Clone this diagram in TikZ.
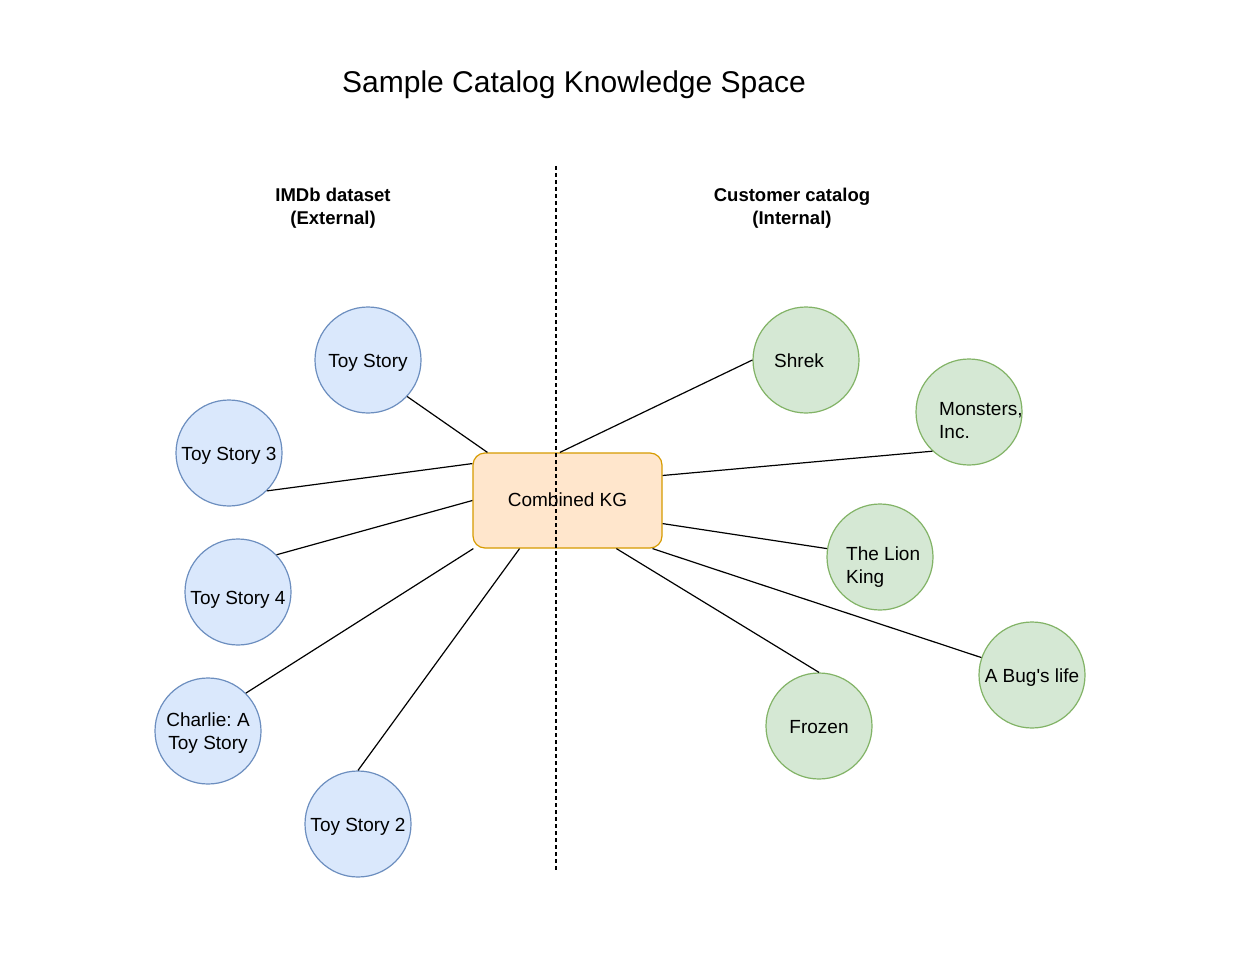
\documentclass[tikz,border=0pt]{standalone}
\usepackage{fontspec}
\setmainfont{Liberation Sans}
\usetikzlibrary{calc}
\frenchspacing
\definecolor{bluefill}{HTML}{DAE8FC}
\definecolor{bluedraw}{HTML}{6C8EBF}
\definecolor{greenfill}{HTML}{D5E8D4}
\definecolor{greendraw}{HTML}{82B366}
\definecolor{orangefill}{HTML}{FFE6CC}
\definecolor{orangedraw}{HTML}{D79B00}
\tikzset{
  movieext/.style={circle, draw=bluedraw, fill=bluefill, line width=1.2pt, minimum size=106pt, inner sep=0pt},
  movieint/.style={circle, draw=greendraw, fill=greenfill, line width=1.2pt, minimum size=106pt, inner sep=0pt},
  kgbox/.style={rectangle, rounded corners=12pt, draw=orangedraw, fill=orangefill, line width=1.2pt, minimum width=189pt, minimum height=95pt},
  ctext/.style={inner sep=0pt, align=center, font=\fontsize{19}{23}\selectfont},
  lefttext/.style={anchor=west, align=left, inner sep=0pt, font=\fontsize{19}{23}\selectfont},
  hdr/.style={align=center, inner sep=0pt, font=\fontsize{18.5}{23}\selectfont\bfseries},
  link/.style={line width=1.2pt, black},
}
\begin{document}
\begin{tikzpicture}[x=1pt, y=-1pt]
\useasboundingbox (0,0) rectangle (1236,960);
\fill[white] (0,0) rectangle (1236,960);

\node[inner sep=0pt, font=\fontsize{30}{34}\selectfont] (title) at (574,85) {Sample Catalog Knowledge Space};

\node[hdr] (imdb) at (333,208) {IMDb dataset\\(External)};
\node[hdr] (cust) at (792,208) {Customer catalog\\ (Internal)};

% nodes
\node[kgbox] (kg) at (567.5,500.5) {};

\node[movieext] (ts) at (368,360) {};
\node[movieext] (ts3) at (229,453) {};
\node[movieext] (ts4) at (238,592) {};
\node[movieext] (ch) at (208,731) {};
\node[movieext] (ts2) at (358,824) {};

\node[movieint] (shrek) at (806,360) {};
\node[movieint] (mon) at (969,412) {};
\node[movieint] (lion) at (880,557) {};
\node[movieint] (bug) at (1032,675) {};
\node[movieint] (frozen) at (819,726) {};

\node[ctext] (tsT) at ([yshift=-2.5]ts.center) {Toy Story};
\node[ctext] (ts3T) at ([yshift=-2.5]ts3.center) {Toy Story 3};
\node[ctext] (ts4T) at ([yshift=-7.5]ts4.center) {Toy Story 4};
\node[ctext] (chT) at ([yshift=-2.5]ch.center) {Charlie: A\\Toy Story};
\node[ctext] (ts2T) at ([yshift=-2.5]ts2.center) {Toy Story 2};
\node[ctext] (bugT) at ([yshift=-2.5]bug.center) {A Bug\textquotesingle s life};
\node[ctext] (frozenT) at ([yshift=-1]frozen.center) {Frozen};

\node[lefttext] (shrekT) at (774,361) {Shrek};
\node[lefttext] (monT) at (939,421) {Monsters,\\Inc.};
\node[lefttext] (lionT) at (846,567) {The Lion\\King};

% connectors
\draw[link] (ts.-43.5) -- ($(kg.north west)!0.079!(kg.north east)$);
\draw[link] (ts3.-45) -- ($(kg.north west)!0.116!(kg.south west)$);
\draw[link] (ts4.44) -- (kg.west);
\draw[link] (ch.45) -- ($(kg.south west)!0.005!(kg.south east)$);
\draw[link] (ts2.90) -- ($(kg.south west)!0.248!(kg.south east)$);

\draw[link] ($(kg.north west)!0.46!(kg.north east)$) -- (shrek.180);
\draw[link] ($(kg.north east)!0.24!(kg.south east)$) -- (mon.-133.5);
\draw[link] ($(kg.north east)!0.74!(kg.south east)$) -- (lion.171);
\draw[link] ($(kg.south west)!0.947!(kg.south east)$) -- (bug.161);
\draw[link] ($(kg.south west)!0.757!(kg.south east)$) -- (frozen.90);

% divider (drawn on top, as in the reference)
\coordinate (dtop) at (556,166);
\coordinate (dbot) at (556,872);
\draw[line width=1.2pt, dash pattern=on 4pt off 3pt] (dtop) -- (dbot);
\node[inner sep=0pt, font=\fontsize{19}{23}\selectfont] (kgT) at ([yshift=1]kg.center) {Combined KG};
\end{tikzpicture}
\end{document}
